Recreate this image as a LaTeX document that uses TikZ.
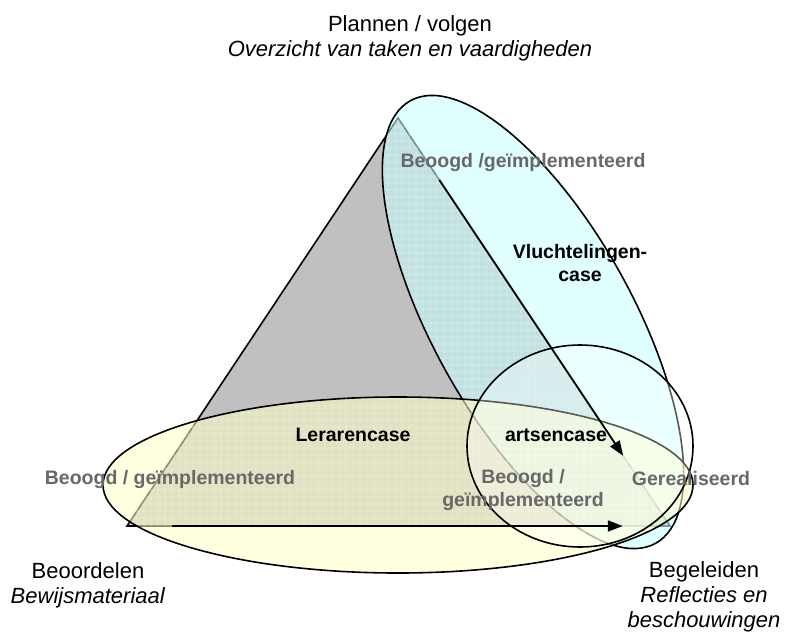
\documentclass[tikz,border=0pt]{standalone}
\usepackage{fontspec}
\setmainfont{Liberation Sans}
\usetikzlibrary{arrows.meta,calc,patterns.meta}

\definecolor{trigrey}{RGB}{192,192,192}
\definecolor{paleyellow}{RGB}{255,255,196}
\definecolor{palecyan}{RGB}{196,255,255}
\definecolor{labelgrey}{RGB}{104,104,104}

\begin{document}
\begin{tikzpicture}[x=1pt,y=-1pt,
  outline/.style={line width=1.6pt, draw=black},
  hgrid/.style={pattern={Lines[distance=6.5pt,angle=0,line width=0.7pt]}, pattern color=white, opacity=0.35},
  vgrid/.style={pattern={Lines[distance=6.5pt,angle=90,line width=0.7pt]}, pattern color=white, opacity=0.35},
  flow/.style={line width=1.8pt, -{Triangle[length=15pt,width=11pt]}},
  corner/.style={font=\fontsize{22}{25}\selectfont, align=center, inner sep=0pt},
  casename/.style={font=\fontsize{19.5}{23}\selectfont\bfseries, align=center, inner sep=0pt},
  phase/.style={font=\fontsize{19.5}{23}\selectfont\bfseries, text=labelgrey, align=center, inner sep=0pt}]
\useasboundingbox (0,0) rectangle (786,632);

% triangle corners
\coordinate (top) at (398,118);
\coordinate (left) at (127,526);
\coordinate (right) at (670,526);

% the grey triangle
\draw[outline, fill=trigrey] (top) -- (left) -- (right) -- cycle;

% ellipse of the refugee case
\coordinate (cv) at (533,322);
\begin{scope}[rotate around={-61:(cv)}]
  \fill[palecyan, fill opacity=0.55] (cv) ellipse [x radius=253pt, y radius=100pt];
  \path[hgrid] (cv) ellipse [x radius=253pt, y radius=100pt];
  \path[vgrid] (cv) ellipse [x radius=253pt, y radius=100pt];
  \draw[outline] (cv) ellipse [x radius=253pt, y radius=100pt];
\end{scope}

% ellipse of the teacher case
\coordinate (cl) at (398,485);
\fill[paleyellow, fill opacity=0.55] (cl) ellipse [x radius=295pt, y radius=88pt];
\path[hgrid] (cl) ellipse [x radius=295pt, y radius=88pt];
\path[vgrid] (cl) ellipse [x radius=295pt, y radius=88pt];
\draw[outline] (cl) ellipse [x radius=295pt, y radius=88pt];

% ellipse of the doctor case
\coordinate (ca) at (580,446);
\draw[outline, fill=white, fill opacity=0.35]
  (ca) ellipse [x radius=113pt, y radius=101pt];

% arrows along two sides
\coordinate (r1) at ($(top)!0.152!(right)$);
\coordinate (r2) at ($(top)!0.828!(right)$);
\coordinate (b1) at ($(left)!0.083!(right)$);
\coordinate (b2) at ($(left)!0.913!(right)$);
\draw[flow] (r1) -- (r2);
\draw[flow] (b1) -- (b2);

% corner labels
\node[corner] (plan) at (410,38) {Plannen / volgen\\\textit{Overzicht van taken en vaardigheden}};
\node[corner] (judge) at (88,585) {Beoordelen\\\textit{Bewijsmateriaal}};
\node[corner] (guide) at (704,597) {Begeleiden\\\textit{Reflecties en}\\\textit{beschouwingen}};

% case names
\node[casename] (refugee) at (580,263) {Vluchtelingen-\\case};
\node[casename] (teacher) at (353,435) {Lerarencase};
\node[casename] (doctor) at (556,435) {artsencase};

% curriculum levels
\node[phase] (ptop) at (523,162) {Beoogd /geïmplementeerd};
\node[phase] (pleft) at (170,479) {Beoogd / geïmplementeerd};
\node[phase] (pmid) at (523,490) {Beoogd /\\geïmplementeerd};
\node[phase] (preal) at (691,479) {Gerealiseerd};
\end{tikzpicture}
\end{document}
